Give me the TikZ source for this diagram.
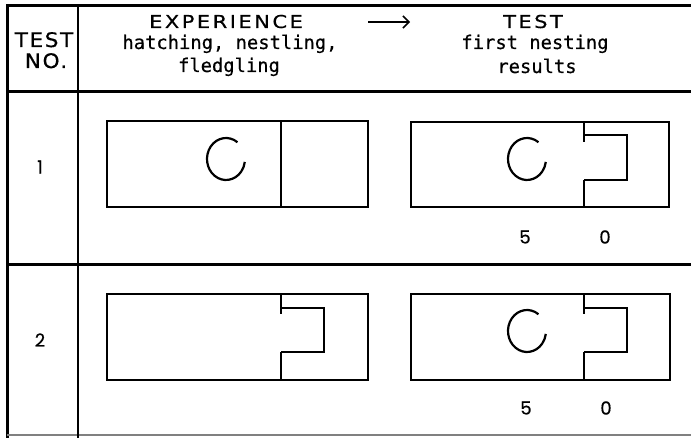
\documentclass[tikz,border=0pt]{standalone}
\usepackage{fontspec}
\usetikzlibrary{arrows.meta}
\newfontfamily\capfont{DejaVu Sans}[LetterSpace=14,FakeStretch=1.18,FakeBold=0.5]
\newfontfamily\lowfont{DejaVu Sans Mono}[FakeBold=0.5]
\newfontfamily\colfont{DejaVu Sans}[LetterSpace=8,FakeStretch=1.08,FakeBold=0.5]
\newfontfamily\numfont{Poppins}[FakeBold=0.5]
\begin{document}
\begin{tikzpicture}[x=1pt,y=-1pt,
  frame/.style={line width=3pt, line cap=rect},
  rule/.style={line width=2pt},
  box/.style={line width=1.8pt, line join=miter},
  brk/.style={line width=2.4pt, line join=miter},
  cstroke/.style={line width=2.2pt},
  caplbl/.style={font=\capfont\fontsize{17.8}{21}\selectfont, inner sep=0pt, anchor=base},
  lbl/.style={font=\lowfont\fontsize{18.8}{21}\selectfont, inner sep=0pt, anchor=base},
  clbl/.style={font=\colfont\fontsize{20}{23}\selectfont, inner sep=0pt, anchor=base},
  num/.style={font=\numfont\fontsize{18}{21}\selectfont, inner sep=0pt}
]
\useasboundingbox (0,0) rectangle (691,438);
% frame
\draw[frame] (7,6) -- (691,6);
\draw[frame] (7,6) -- (7,438);
\draw[frame] (7,92) -- (691,92);
\draw[frame] (7,265) -- (691,265);
\draw[line width=1.5pt, gray] (7,435) -- (691,435);
\draw[rule] (78,6) -- (78,438);
% header
\node[clbl] (tst) at (44,47) {TEST};
\node[clbl] (no) at (46,68) {NO.};
\node[caplbl] (exp1) at (226,28) {EXPERIENCE};
\node[lbl] (exp2) at (230,49) {hatching, nestling,};
\node[lbl] (exp3) at (229,72) {fledgling};
\node[caplbl] (tr1) at (533,28) {TEST};
\node[lbl] (tr2) at (535,49) {first nesting};
\node[lbl] (tr3) at (537,73) {results};
\coordinate (a1) at (368,22);
\coordinate (a2) at (410,22);
\draw[line width=1.5pt, -{Straight Barb[length=6pt,width=12pt,line width=1.5pt]}] (a1) -- (a2);
% row labels
\node[num] (r1) at (40,167) {1};
\node[num] (r2) at (40,340) {2};
% row 1 experience
\draw[box] (107,121) rectangle (368,207);
\draw[box] (281,121) -- (281,207);
\draw[cstroke] (226,159) ++(-53:19 and 21) arc[start angle=-53, end angle=-352, x radius=19, y radius=21];
% row 1 test
\draw[box] (411,122) rectangle (669,207);
\draw[box] (584,122) -- (584,142);
\draw[brk] (584,135) -- (627,135) -- (627,180) -- (584,180);
\draw[box] (584,180) -- (584,207);
\draw[cstroke] (527,159) ++(-53:19 and 21) arc[start angle=-53, end angle=-352, x radius=19, y radius=21];
\node[num] (n15) at (525,237) {5};
\node[num] (n10) at (605,237) {0};
% row 2 experience
\draw[box] (107,294) rectangle (368,380);
\draw[box] (281,294) -- (281,314);
\draw[brk] (281,308) -- (324,308) -- (324,352) -- (281,352);
\draw[box] (281,352) -- (281,380);
% row 2 test
\draw[box] (411,294) rectangle (670,380);
\draw[box] (584,294) -- (584,314);
\draw[brk] (584,308) -- (627,308) -- (627,352) -- (584,352);
\draw[box] (584,352) -- (584,380);
\draw[cstroke] (527,331) ++(-53:19 and 21) arc[start angle=-53, end angle=-352, x radius=19, y radius=21];
\node[num] (n25) at (526,408) {5};
\node[num] (n20) at (606,408) {0};
\end{tikzpicture}
\end{document}
